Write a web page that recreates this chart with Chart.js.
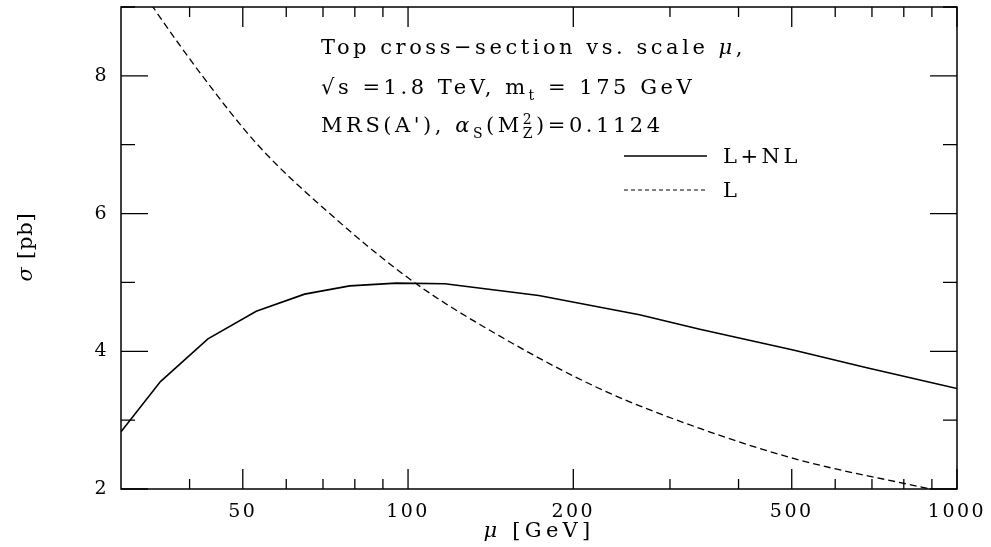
<!DOCTYPE html>
<html>
<head>
<meta charset="utf-8">
<script src="https://cdn.jsdelivr.net/npm/chart.js@4"></script>
<style>
html,body{margin:0;padding:0;background:#fff;}
#wrap{width:991px;height:547px;}
</style>
</head>
<body>
<div id="wrap"><canvas id="c" width="991" height="547"></canvas></div>
<script>
// ---- data ----
const muNLO   = [30, 35.4, 43.2, 52.9, 64.8, 78.3, 95.2, 116.7, 173, 264, 340, 503, 685, 1000];
const sigNLO  = [2.83, 3.56, 4.18, 4.58, 4.83, 4.95, 4.99, 4.98, 4.81, 4.53, 4.32, 4.02, 3.76, 3.46];
const muLO    = [30, 34.3, 42.2, 53.2, 72, 102.7, 147, 223, 340, 517, 893, 1000];
const sigLO   = [9.7, 9.0, 8.0, 7.0, 6.0, 5.0, 4.22, 3.46, 2.88, 2.42, 2.0, 1.91];
const xMajorTicks = [50, 100, 200, 500, 1000];
const xMinorTicks = [40, 60, 70, 80, 90, 300, 400, 600, 700, 800, 900];
const yMajorTicks = [2, 4, 6, 8];
const yMinorTicks = [3, 5, 7, 9];
const seriesNames = ['L+NL', 'L'];

const SERIF = '"DejaVu Serif", "Liberation Serif", serif';
const TICKFONT = 19;

function pts(xs, ys){ return xs.map((x,i)=>({x:x, y:ys[i]})); }

const spacingPlugin = {
  id: 'spacing',
  beforeDraw(chart){ chart.ctx.letterSpacing = '2.5px'; },
  afterDraw(chart){ chart.ctx.letterSpacing = '0px'; }
};

const framePlugin = {
  id: 'frame',
  afterDatasetsDraw(chart){
    const ctx = chart.ctx, a = chart.chartArea;
    const xs = chart.scales.x, ys = chart.scales.y;
    ctx.save();
    ctx.strokeStyle = '#000';
    ctx.lineWidth = 1.5;
    ctx.setLineDash([]);
    ctx.strokeRect(a.left, a.top, a.right - a.left, a.bottom - a.top);
    ctx.lineWidth = 1.3;
    ctx.beginPath();
    const xt = (v, len) => {
      const p = xs.getPixelForValue(v);
      ctx.moveTo(p, a.bottom); ctx.lineTo(p, a.bottom - len);
      ctx.moveTo(p, a.top); ctx.lineTo(p, a.top + len);
    };
    xMajorTicks.forEach(v => xt(v, 20));
    xMinorTicks.forEach(v => xt(v, 10));
    const yt = (v, len) => {
      const p = ys.getPixelForValue(v);
      ctx.moveTo(a.left, p); ctx.lineTo(a.left + len, p);
      ctx.moveTo(a.right, p); ctx.lineTo(a.right - len, p);
    };
    yMajorTicks.forEach(v => yt(v, 27));
    yMinorTicks.forEach(v => yt(v, 14));
    ctx.stroke();

    ctx.fillStyle = '#000';
    ctx.textBaseline = 'middle';
    // axis titles
    const yT = [{t:'σ', it:true},{t:' [pb]'}];
    const xT = [{t:'μ', it:true},{t:' [GeV]'}];
    const TF = 21;
    const spY = fitSpacing(ctx, yT, TF, 69);
    const spX = fitSpacing(ctx, xT, TF, 111);
    ctx.save();
    ctx.translate(27, 247);
    ctx.rotate(-Math.PI/2);
    drawRich(ctx, 0, 0, yT, TF, spY, 'center');
    ctx.restore();
    drawRich(ctx, 539, 532, xT, TF, spX, 'center');

    // annotation
    const F = 21;
    ctx.textBaseline = 'alphabetic';
    const line1 = [{t:'Top cross−section vs. scale '},{t:'μ', it:true},{t:','}];
    const sp = fitSpacing(ctx, line1, F, 425);
    drawRich(ctx, 321, 54, line1, F, sp, 'left');
    drawRich(ctx, 321, 94, [{t:'√s =1.8 TeV, m'},{t:'t', sub:true},{t:' = 175 GeV'}], F, sp, 'left');
    drawRich(ctx, 321, 132, [{t:"MRS(A'), "},{t:'α', it:true},{t:'S', sub:true},{t:'(M'},{t:'2', sup:true, noadv:true},{t:'Z', sub:true},{t:')=0.1124'}], F, sp, 'left');

    // legend
    const ds = chart.data.datasets;
    const legY = [156, 190];
    ds.forEach((d, i) => {
      ctx.save();
      ctx.strokeStyle = d.borderColor;
      ctx.lineWidth = i === 0 ? 1.4 : 1.1;
      ctx.setLineDash(i === 0 ? [] : [4, 3]);
      ctx.beginPath();
      ctx.moveTo(624, legY[i]); ctx.lineTo(707, legY[i]);
      ctx.stroke();
      ctx.restore();
      drawRich(ctx, 723, legY[i] + 7, [{t:d.label}], F, sp, 'left');
    });
    ctx.restore();
  }
};

function segFont(g, F){
  const size = (g.sub || g.sup) ? Math.round(F*0.68) : F;
  return (g.it ? 'italic ' : '') + size + 'px ' + SERIF;
}
function richWidth(ctx, segs, F, sp){
  let w = 0;
  ctx.save();
  ctx.letterSpacing = sp + 'px';
  segs.forEach(g => { ctx.font = segFont(g, F); if(!g.noadv) w += ctx.measureText(g.t).width; });
  ctx.restore();
  return w;
}
function fitSpacing(ctx, segs, F, target){
  const w0 = richWidth(ctx, segs, F, 0);
  const n = segs.reduce((s,g)=>s+(g.noadv?0:g.t.length),0);
  return Math.max(0, (target - w0) / n);
}
function drawRich(ctx, x, y, segs, F, sp, align){
  const w = richWidth(ctx, segs, F, sp);
  let cx = align === 'center' ? x - w/2 : x;
  ctx.save();
  ctx.textAlign = 'left';
  ctx.letterSpacing = sp + 'px';
  segs.forEach(g => {
    ctx.font = segFont(g, F);
    let dy = 0;
    if (g.sub) dy = F*0.28;
    if (g.sup) dy = -F*0.38;
    ctx.fillText(g.t, cx, y + dy);
    if (!g.noadv) cx += ctx.measureText(g.t).width;
  });
  ctx.restore();
}

const zeroPad = s => { s.paddingTop = 0; s.paddingBottom = 0; s.paddingLeft = 0; s.paddingRight = 0; };

new Chart(document.getElementById('c'), {
  type: 'line',
  data: {
    datasets: [
      { label: seriesNames[0], data: pts(muNLO, sigNLO), borderColor: '#000', borderWidth: 1.6,
        pointRadius: 0, tension: 0, fill: false },
      { label: seriesNames[1], data: pts(muLO, sigLO), borderColor: '#000', borderWidth: 1.3,
        borderDash: [7, 4], pointRadius: 0, cubicInterpolationMode: 'monotone', fill: false }
    ]
  },
  options: {
    responsive: false,
    animation: false,
    layout: { padding: { left: 0, top: 7, right: 34, bottom: 0 } },
    plugins: { legend: { display: false }, tooltip: { enabled: false }, title: { display: false } },
    scales: {
      x: {
        type: 'logarithmic', min: 30, max: 1000,
        grid: { display: false, drawTicks: false }, border: { display: false },
        afterBuildTicks: s => { s.ticks = xMajorTicks.map(v => ({ value: v })); },
        afterFit: s => { s.height = 58; zeroPad(s); },
        ticks: { autoSkip: false, maxRotation: 0, padding: 12, color: '#000',
          font: { family: SERIF, size: TICKFONT }, callback: v => String(v) }
      },
      y: {
        type: 'linear', min: 2, max: 9,
        grid: { display: false, drawTicks: false }, border: { display: false },
        afterBuildTicks: s => { s.ticks = yMajorTicks.map(v => ({ value: v })); },
        afterFit: s => { s.width = 121; zeroPad(s); },
        ticks: { autoSkip: false, padding: 12, color: '#000',
          font: { family: SERIF, size: TICKFONT }, callback: v => String(v) }
      }
    }
  },
  plugins: [spacingPlugin, framePlugin]
});
</script>
</body>
</html>
